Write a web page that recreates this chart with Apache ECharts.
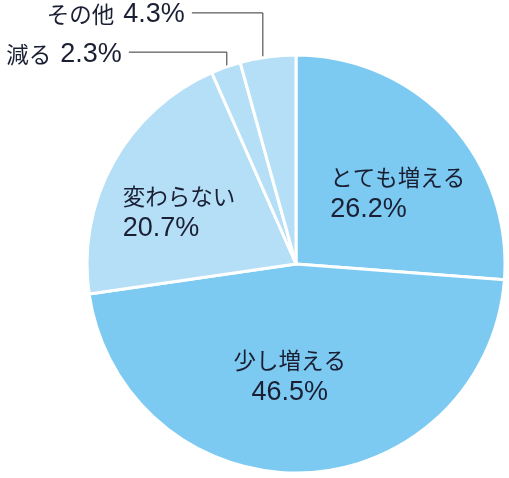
<!DOCTYPE html>
<html><head><meta charset="utf-8">
<script src="https://cdn.jsdelivr.net/npm/echarts@6/dist/echarts.min.js"></script>
<style>html,body{margin:0;padding:0;background:#fff}#c{width:509px;height:478px}</style>
</head><body><div id="c"></div>
<script>
// ---- data ----
const categories = ['とても増える', '少し増える', '変わらない', '減る', 'その他'];
const values = [26.2, 46.5, 20.7, 2.3, 4.3];
const outsideLabels = [false, false, false, true, true];

// ---- styling / layout (not data) ----
const sliceColors = ['#7ccaf1', '#7ccaf1', '#b5dff7', '#b5dff7', '#b5dff7'];
const innerAlign = ['left', 'center', 'left', 'left', 'left'];
const innerNudge = [[23, 3], [-10, 5], [-23, 1], [0, 0], [0, 0]];
const outerNudge = [null, null, null, { lx: -104, ly: -13, vx: 1 }, { lx: -83, ly: -42, vx: -5 }];
const textColor = '#1a1f33';
const cjk = "'Noto Sans CJK JP', sans-serif";
const latin = "'Liberation Sans', 'Noto Sans CJK JP', sans-serif";

const chart = echarts.init(document.getElementById('c'), null, { renderer: 'canvas' });

const rich = {
  nL: { fontFamily: cjk, fontSize: 22.5, lineHeight: 32, color: textColor, align: 'left' },
  vL: { fontFamily: latin, fontSize: 27, lineHeight: 32, color: textColor, align: 'left' },
  nC: { fontFamily: cjk, fontSize: 22.5, lineHeight: 32, color: textColor, align: 'center' },
  vC: { fontFamily: latin, fontSize: 27, lineHeight: 32, color: textColor, align: 'center' },
  nO: { fontFamily: cjk, fontSize: 22.5, lineHeight: 28, color: textColor },
  vO: { fontFamily: latin, fontSize: 27, lineHeight: 28, color: textColor, padding: [0, 0, 0, 9] }
};

const seriesData = categories.map((name, i) => {
  const outside = outsideLabels[i];
  const a = innerAlign[i] === 'center' ? 'C' : 'L';
  return {
    name: name,
    value: values[i],
    itemStyle: { color: sliceColors[i] },
    label: {
      position: outside ? 'outside' : 'inside',
      formatter: outside
        ? '{nO|' + name + '}{vO|' + values[i] + '%}'
        : '{n' + a + '|' + name + '}\n{v' + a + '|' + values[i] + '%}',
      rich: rich
    },
    labelLine: {
      show: outside,
      length: 10,
      length2: 10,
      lineStyle: { color: '#333', width: 1 }
    }
  };
});

chart.setOption({
  backgroundColor: '#ffffff',
  animation: false,
  series: [{
    type: 'pie',
    center: [296, 264],
    radius: [0, 209],
    startAngle: 90,
    clockwise: true,
    avoidLabelOverlap: false,
    itemStyle: { borderColor: '#ffffff', borderWidth: 3 },
    emphasis: { disabled: true },
    label: { show: true, color: textColor },
    labelLayout: function (params) {
      const i = params.dataIndex;
      if (!outsideLabels[i]) {
        return { dx: innerNudge[i][0], dy: innerNudge[i][1] };
      }
      const o = outerNudge[i];
      const pts = params.labelLinePoints;
      const p0 = pts ? pts[0] : [params.labelRect.x, params.labelRect.y];
      const lx = p0[0] + o.lx;
      const ly = p0[1] + o.ly;
      const lineY = ly - 2;
      const vx = p0[0] + o.vx;
      return {
        x: lx,
        y: ly,
        align: 'right',
        verticalAlign: 'middle',
        labelLinePoints: [[vx, p0[1] + 10], [vx, lineY], [lx + 7, lineY]]
      };
    },
    data: seriesData
  }]
});
</script>
</body></html>
